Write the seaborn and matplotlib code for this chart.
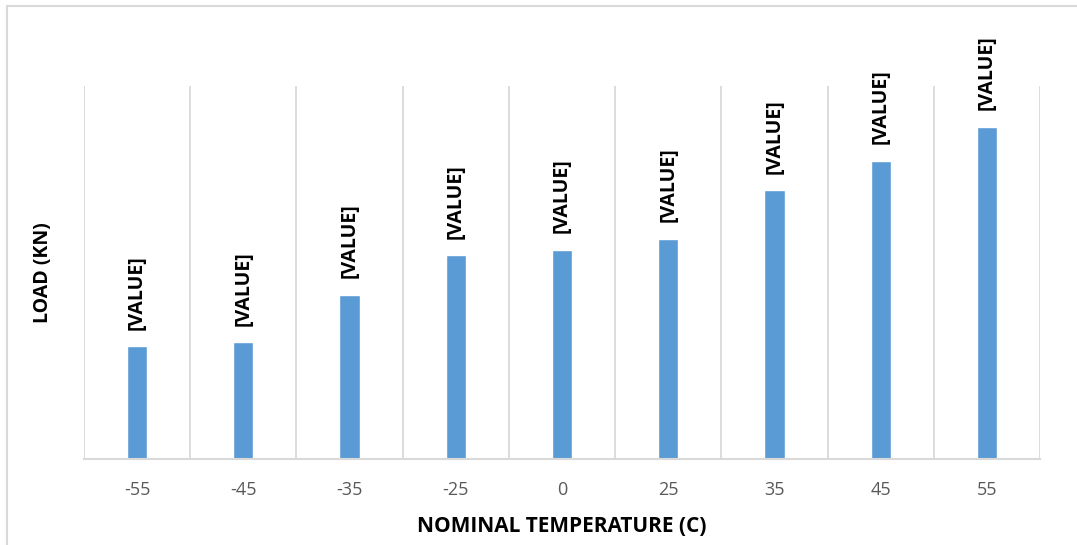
import matplotlib
matplotlib.use("Agg")
import matplotlib.pyplot as plt
import seaborn as sns
import pandas as pd
from matplotlib.lines import Line2D

# ---- data ----
temperatures = ["-55", "-45", "-35", "-25", "0", "25", "35", "45", "55"]
loads_kn = [3.40, 3.52, 4.94, 6.14, 6.30, 6.63, 8.10, 8.98, 10.00]
value_label = "[VALUE]"
x_title = "NOMINAL TEMPERATURE (C)"
y_title = "LOAD (KN)"

sns.set_theme(style="white")
plt.rcParams["font.family"] = ["Open Sans", "DejaVu Sans"]

df = pd.DataFrame({"temp": temperatures, "load": loads_kn})

fig = plt.figure(figsize=(10.77, 5.45), dpi=100)
ax = fig.add_axes([84 / 1077, 86 / 545, (1040 - 84) / 1077, (459 - 86) / 545])

sns.barplot(data=df, x="temp", y="load", order=temperatures, color="#5B9BD5",
            saturation=1, width=0.19, ax=ax, errorbar=None)

ax.set_xlim(-0.5, len(temperatures) - 0.5)
ax.set_ylim(0, 11.24)

# vertical category gridlines
ax.set_xticks([i - 0.5 for i in range(len(temperatures) + 1)], minor=True)
ax.grid(which="minor", axis="x", color="#d9d9d9", linewidth=1.3)
ax.tick_params(which="both", length=0)
ax.set_yticks([])

for s in ["top", "right", "left"]:
    ax.spines[s].set_visible(False)
ax.spines["bottom"].set_color("#d9d9d9")
ax.spines["bottom"].set_linewidth(1.5)

ax.set_xticks(range(len(temperatures)))
ax.set_xticklabels(temperatures, fontsize=13, color="#595959")
ax.tick_params(axis="x", pad=16)

for i, v in enumerate(loads_kn):
    ax.annotate(value_label, xy=(i, v), xytext=(0, 12), textcoords="offset points",
                rotation=90, ha="center", va="bottom", fontsize=14,
                fontweight="bold", color="black")

ax.set_xlabel(x_title, fontsize=15, fontweight="bold", color="black", labelpad=12)
ax.set_ylabel(y_title, fontsize=14, fontweight="bold", color="black", labelpad=22)

# chart border (top and left visible)
fig.add_artist(Line2D([7 / 1077, 7 / 1077], [0, 1 - 6 / 545], transform=fig.transFigure,
                      color="#d9d9d9", linewidth=1.5))
fig.add_artist(Line2D([7 / 1077, 1], [1 - 6 / 545, 1 - 6 / 545], transform=fig.transFigure,
                      color="#d9d9d9", linewidth=1.5))

fig.savefig("out.png", dpi=100, facecolor="white")
